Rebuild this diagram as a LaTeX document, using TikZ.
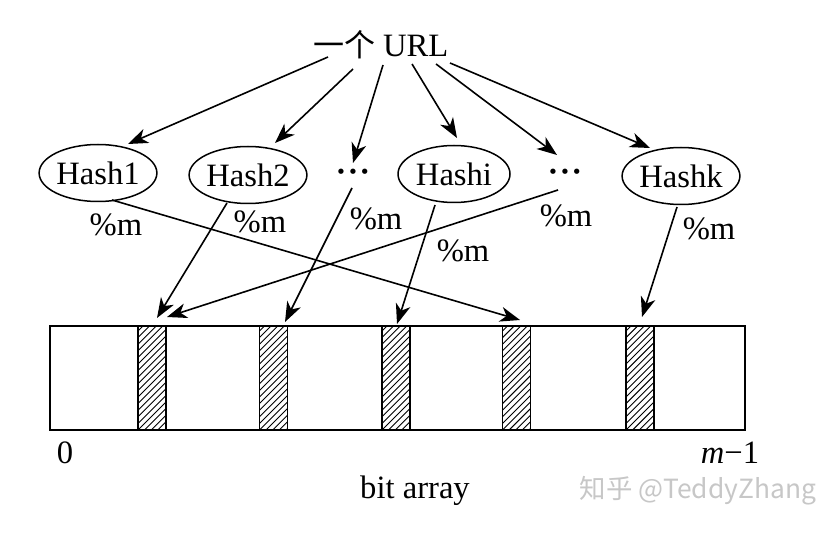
\documentclass[tikz,border=0pt]{standalone}
\usepackage{fontspec}
\setmainfont{Liberation Serif}
\newfontfamily\cjk{Noto Sans CJK SC}
\usetikzlibrary{arrows.meta,calc,shapes.geometric}
\begin{document}
\begin{tikzpicture}[x=0.5pt,y=-0.5pt,
  every node/.style={font=\fontsize{16.3}{19}\selectfont, inner sep=0pt, outer sep=0pt},
  hashnode/.style={draw, ellipse, line width=0.75pt, minimum width=56pt, minimum height=28.5pt},
  dotsnode/.style={minimum width=13.5pt, minimum height=13pt},
  modlabel/.style={anchor=base},
  arr/.style={line width=0.8pt, -{Stealth[length=10pt, width=7.5pt, inset=3pt]}},
  arraybox/.style={draw, line width=0.9pt, minimum width=347.5pt, minimum height=52pt},
  barnode/.style={draw, line width=0.8pt, minimum width=14pt, minimum height=52pt,
    path picture={\foreach \k in {-6,...,17}{\draw[line width=0.45pt]
      ([yshift=\k*3.3pt]path picture bounding box.south west) -- ++(30pt,30pt);}}},
  watermark/.style={anchor=base, text=black!22, font=\cjk\fontsize{13.2}{16}\selectfont}
]
\useasboundingbox[fill=white] (0,0) rectangle (822,539);

% source
\node[anchor=base west] (url) at (313,57) {{\cjk\fontsize{15.5}{18}\selectfont 一个} URL};
\coordinate (s1) at (328,57);
\coordinate (s2) at (353,69);
\coordinate (s3) at (383,65);
\coordinate (s4) at (412,64);
\coordinate (s5) at (436,64);
\coordinate (s6) at (450,63);

% hash functions
\node[hashnode] (h1) at (98,173) {Hash1};
\node[hashnode] (h2) at (248,175) {Hash2};
\node[dotsnode] (d1) at (353,176) {\textbf{\textperiodcentered\kern0.03em\textperiodcentered\kern0.03em\textperiodcentered}};
\node[hashnode] (hi) at (454,174) {Hashi};
\node[dotsnode] (d2) at (565,176) {\textbf{\textperiodcentered\kern0.03em\textperiodcentered\kern0.03em\textperiodcentered}};
\node[hashnode] (hk) at (681,176) {Hashk};

% bit array
\node[arraybox] (arr) at (397.5,378) {};
\node[barnode] (b1) at (152,378) {};
\node[barnode] (b2) at (273.5,378) {};
\node[barnode] (b3) at (396,378) {};
\node[barnode] (b4) at (516.5,378) {};
\node[barnode] (b5) at (640,378) {};

% URL -> hash
\draw[arr] (s1) -- ($(h1)+(30,-29)$);
\draw[arr] (s2) -- ($(h2)+(27,-32)$);
\draw[arr] (s3) -- ($(d1)+(0,-13)$);
\draw[arr] (s4) -- ($(hi)+(3,-36)$);
\draw[arr] (s5) -- ($(d2)+(-8,-21)$);
\draw[arr] (s6) -- ($(hk)+(-31,-28)$);

% hash -> bits
\draw[arr] ($(h1)+(14,27)$) -- ($(b4.north)+(3.5,-6)$);
\draw[arr] ($(h2)+(-21,28)$) -- ($(b1.north)+(5,-8)$);
\draw[arr] ($(d1)+(-1,12)$) -- ($(b2.north)+(11.5,-4)$);
\draw[arr] ($(d2)+(-7,14)$) -- ($(b1.north)+(15,-9)$);
\draw[arr] ($(hi)+(-19,31)$) -- ($(b3.north)+(1,-2)$);
\draw[arr] ($(hk)+(-4,31)$) -- ($(b5.north)+(2,-9)$);

% %m labels
\node[modlabel] (m1) at (116,235) {\%m};
\node[modlabel] (m2) at (260,233) {\%m};
\node[modlabel] (m3) at (376,230) {\%m};
\node[modlabel] (m4) at (463,262) {\%m};
\node[modlabel] (m5) at (566,227) {\%m};
\node[modlabel] (m6) at (709,240) {\%m};

% axis labels
\node[anchor=base] (zero) at (65,463) {0};
\node[anchor=base] (mminus) at (730,463) {\textit{m}−1};
\node[anchor=base] (bitarray) at (415,498) {bit array};
\node[watermark] (wm) at (698,498) {知乎 @TeddyZhang};
\end{tikzpicture}
\end{document}
